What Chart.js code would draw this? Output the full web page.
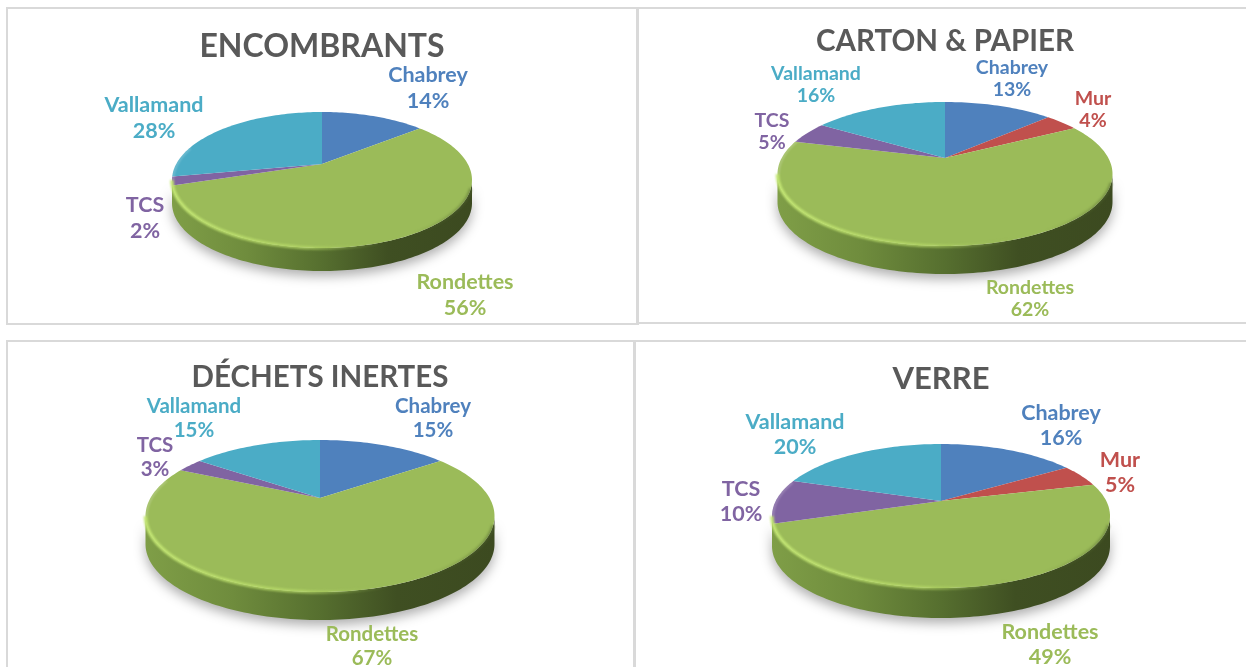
<!DOCTYPE html>
<html>
<head>
<meta charset="utf-8">
<title>Déchets par commune</title>
<script src="https://cdn.jsdelivr.net/npm/chart.js@4/dist/chart.umd.min.js"></script>
<style>
    html, body { margin: 0; padding: 0; background: #fff; overflow: hidden; }
    #page { position: relative; width: 1246px; height: 667px; }
    .panel { position: absolute; box-sizing: border-box; border: 0 solid #d9d9d9; }
    canvas { position: absolute; left: 0; top: 0; display: block; }
</style>
</head>
<body>
<div id="page"></div>
<script>
// --- DATA ---
const categories = ['Chabrey', 'Mur', 'Rondettes', 'TCS', 'Vallamand'];
const sliceColors = ['#4f81bd', '#c0504d', '#9bbb59', '#8064a2', '#4bacc6'];

const titles = ['ENCOMBRANTS', 'CARTON & PAPIER', 'DÉCHETS INERTES', 'VERRE'];
const encombrantsValues = [14, 0, 56, 2, 28];
const cartonValues = [13, 4, 62, 5, 16];
const inertesValues = [15, 0, 67, 3, 15];
const verreValues = [16, 5, 49, 10, 20];
const seriesValues = [encombrantsValues, cartonValues, inertesValues, verreValues];

// --- LAYOUT (page pixels) ---
// frame of each panel, and the borders it shows
const panels = [
    { x: 6, y: 7, w: 633, h: 318, border: '2px 3px 2px 2px' },
    { x: 639, y: 7, w: 607, h: 317, border: '2px 0 2px 0' },
    { x: 6, y: 340, w: 630, h: 327, border: '2px 3px 0 2px' },
    { x: 636, y: 340, w: 610, h: 327, border: '2px 0 0 0' }
];
// pie outline as seen: pivot, extent above/below the pivot, half width, wall height
const views = [
    { cx: 322, py: 164, up: 52, down: 84, half: 150, depth: 23 },
    { cx: 945, py: 158, up: 56, down: 88, half: 167.5, depth: 28 },
    { cx: 320, py: 498, up: 58, down: 94, half: 174.5, depth: 28 },
    { cx: 941, py: 501, up: 57, down: 87, half: 169, depth: 30 }
];
const titleSpots = [{ y: 47, size: 32 }, { y: 41, size: 29.5 }, { y: 377, size: 29.5 }, { y: 379, size: 31 }];
const labelSizes = [21.5, 19.5, 20.5, 21.5];
const labelGaps = [26, 22, 24, 25];
// centre of the first text line for each category, null = no label
const labelSpots = [
    [[428, 75], null, [465, 282], [145, 205], [154, 105]],
    [[1012, 68], [1093, 99], [1030, 288], [772, 121], [816, 74]],
    [[433, 406], null, [372, 634], [155, 445], [194, 406]],
    [[1061, 413], [1120, 460], [1050, 632], [741, 489], [795, 422]]
];

const FONT = 'Lato, Carlito, Calibri, sans-serif';
const TITLE_LH = 1.2;

// Perspective of a tilted disc, angles come from the library's arc elements
function projector(arc, view) {
    const k = (view.down - view.up) / (view.down + view.up);
    const ry = view.up * (1 + k);
    const R = arc.outerRadius;
    return (a) => {
        const s = 1 / (1 - k * Math.sin(a));
        return [arc.x + R * Math.cos(a) * s, arc.y + ry * Math.sin(a) * s];
    };
}

function frontRange(view) {
    const k = (view.down - view.up) / (view.down + view.up);
    return [Math.asin(k), Math.PI - Math.asin(k)];
}

const perspectivePie = {
    id: 'perspectivePie',
    beforeDatasetsDraw(chart, args, opts) {
        const view = opts.view;
        const ctx = chart.ctx;
        const arcs = chart.getDatasetMeta(0).data;
        const project = projector(arcs[0], view);
        const [a0, a1] = frontRange(view);
        const steps = 120;
        const left = arcs[0].x - view.half;
        const right = arcs[0].x + view.half;

        // side wall with its soft shadow
        ctx.save();
        ctx.beginPath();
        for (let i = 0; i <= steps; i++) {
            const p = project(a0 + (a1 - a0) * i / steps);
            ctx.lineTo(p[0], p[1]);
        }
        for (let i = steps; i >= 0; i--) {
            const p = project(a0 + (a1 - a0) * i / steps);
            ctx.lineTo(p[0], p[1] + view.depth);
        }
        ctx.closePath();
        const wall = ctx.createLinearGradient(left, 0, right, 0);
        wall.addColorStop(0, '#7f9e47');
        wall.addColorStop(0.25, '#6f8c3d');
        wall.addColorStop(0.5, '#566f2f');
        wall.addColorStop(0.72, '#3f4f22');
        wall.addColorStop(1, '#3c4a20');
        ctx.fillStyle = wall;
        ctx.shadowColor = 'rgba(0,0,0,0.32)';
        ctx.shadowBlur = 12;
        ctx.shadowOffsetY = 5;
        ctx.fill();
        ctx.restore();

        // top face, one wedge per arc element
        arcs.forEach((arc) => {
            if (arc.endAngle - arc.startAngle <= 0) return;
            ctx.beginPath();
            ctx.moveTo(arc.x, arc.y);
            const n = Math.max(2, Math.ceil((arc.endAngle - arc.startAngle) * 40));
            for (let i = 0; i <= n; i++) {
                const p = project(arc.startAngle + (arc.endAngle - arc.startAngle) * i / n);
                ctx.lineTo(p[0], p[1]);
            }
            ctx.closePath();
            ctx.fillStyle = arc.options.backgroundColor;
            ctx.fill();
        });

        // bevel along the front rim, soft so it melts into the wall
        const rim = ctx.createLinearGradient(left, 0, right, 0);
        rim.addColorStop(0, 'rgba(195,230,115,1)');
        rim.addColorStop(0.45, 'rgba(185,220,105,0.7)');
        rim.addColorStop(0.7, 'rgba(155,187,89,0)');
        rim.addColorStop(0.8, 'rgba(90,110,50,0)');
        rim.addColorStop(1, 'rgba(80,100,45,0.5)');
        ctx.save();
        ctx.filter = 'blur(1px)';
        ctx.strokeStyle = rim;
        ctx.lineWidth = 3.5;
        ctx.beginPath();
        for (let i = 0; i <= steps; i++) {
            const p = project(a0 + 0.12 + (a1 - a0 - 0.12) * i / steps);
            ctx.lineTo(p[0], p[1]);
        }
        ctx.stroke();
        // pale edge going up the left side
        ctx.strokeStyle = 'rgba(255,255,255,0.25)';
        ctx.lineWidth = 2;
        ctx.beginPath();
        for (let i = 0; i <= 30; i++) {
            const p = project(a1 + 0.5 * i / 30);
            ctx.lineTo(p[0] + 1, p[1]);
        }
        ctx.stroke();
        ctx.restore();
        return false;
    },
    afterDraw(chart, args, opts) {
        const ctx = chart.ctx;
        const values = chart.data.datasets[0].data;
        ctx.save();
        ctx.font = 'bold ' + opts.labelSize + 'px ' + FONT;
        ctx.textAlign = 'center';
        ctx.textBaseline = 'middle';
        chart.data.labels.forEach((name, i) => {
            const spot = opts.spots[i];
            if (!spot) return;
            ctx.fillStyle = sliceColors[i];
            ctx.fillText(name, spot[0] - opts.originX, spot[1] - opts.originY);
            ctx.fillText(values[i] + '%', spot[0] - opts.originX, spot[1] - opts.originY + opts.labelGap);
        });
        ctx.restore();
    }
};

const page = document.getElementById('page');

panels.forEach((panel, i) => {
    const div = document.createElement('div');
    div.className = 'panel';
    div.style.cssText = `left:${panel.x}px;top:${panel.y}px;width:${panel.w}px;height:${panel.h}px;border-width:${panel.border};`;
    const canvas = document.createElement('canvas');
    const width = panel.w - (i % 2 === 0 ? 5 : 0);
    const height = panel.h - 2;
    const originX = panel.x + (i % 2 === 0 ? 2 : 0);
    const originY = panel.y + 2;
    canvas.width = width;
    canvas.height = height;
    div.appendChild(canvas);
    page.appendChild(div);

    const view = views[i];
    const spot = titleSpots[i];
    const titleH = spot.size * TITLE_LH;
    const titleTop = spot.y - originY - titleH / 2;
    const pivotY = view.py - originY;
    // padding that puts the middle of the chart area on the pivot
    const paddingBottom = titleTop + titleH + height - 2 * pivotY;
    const k = (view.down - view.up) / (view.down + view.up);

    new Chart(canvas, {
        type: 'pie',
        data: {
            labels: categories,
            datasets: [{ data: seriesValues[i], backgroundColor: sliceColors, borderWidth: 0 }]
        },
        options: {
            responsive: false,
            animation: false,
            devicePixelRatio: 1,
            radius: view.half * Math.sqrt(1 - k * k),
            layout: {
                padding: {
                    top: 0,
                    bottom: paddingBottom,
                    left: 2 * (view.cx - originX) > width ? 2 * (view.cx - originX) - width : 0,
                    right: 2 * (view.cx - originX) < width ? width - 2 * (view.cx - originX) : 0
                }
            },
            plugins: {
                legend: { display: false },
                tooltip: { enabled: false },
                title: {
                    display: true,
                    text: titles[i],
                    color: '#595959',
                    font: { family: FONT, size: spot.size, weight: 'bold', lineHeight: TITLE_LH },
                    padding: { top: titleTop, bottom: 0 }
                },
                perspectivePie: {
                    view: view,
                    spots: labelSpots[i],
                    labelSize: labelSizes[i],
                    labelGap: labelGaps[i],
                    originX: originX,
                    originY: originY
                }
            }
        },
        plugins: [perspectivePie]
    });
});
</script>
</body>
</html>
